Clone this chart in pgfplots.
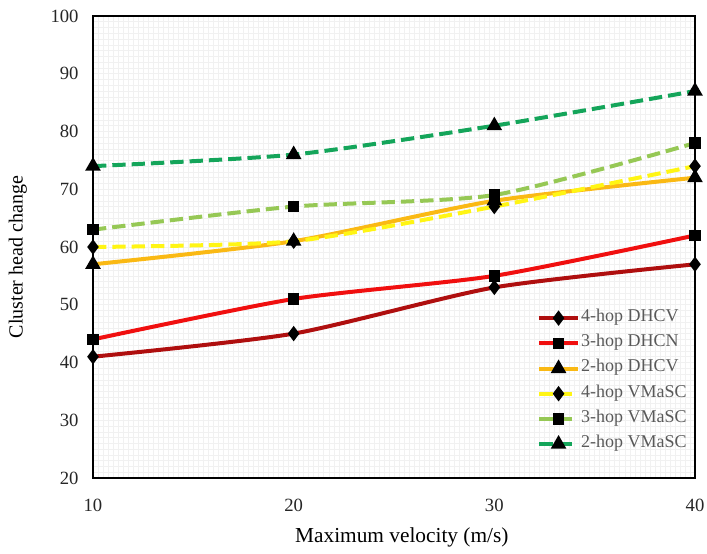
\documentclass[border=0pt]{standalone}
\usepackage{fontspec}
\setmainfont{Liberation Serif}
\usepackage{pgfplots}
\pgfplotsset{compat=1.18}
\definecolor{cA}{RGB}{175,15,15}
\definecolor{cB}{RGB}{240,15,15}
\definecolor{cC}{RGB}{250,185,20}
\definecolor{cD}{RGB}{255,245,20}
\definecolor{cE}{RGB}{150,200,85}
\definecolor{cF}{RGB}{20,165,90}
\begin{document}
\begin{tikzpicture}
\begin{axis}[
  name=ax,
  scale only axis,
  width=451.5pt, height=346.5pt,
  xmin=10, xmax=40, ymin=20, ymax=100,
  xtick={10,20,30,40}, ytick={20,30,...,100},
  minor x tick num=39, minor y tick num=9,
  grid=both,
  major grid style={gray!11, line width=0.4pt},
  minor grid style={gray!11, line width=0.4pt},
  major tick length=0pt, minor tick length=0pt,
  axis line style={black, line width=1.5pt},
  tick label style={font=\fontsize{14}{16}\selectfont, text=black!85},
  xticklabel style={yshift=-12.3pt},
  yticklabel style={xshift=-7.3pt},
  /pgf/number format/assume math mode=true,
  xlabel={Maximum velocity (m/s)},
  ylabel={Cluster head change},
  xlabel style={font=\fontsize{16}{18}\selectfont, at={(axis description cs:0.513,-0.128)}, anchor=center},
  ylabel style={font=\fontsize{15}{17}\selectfont, at={(axis description cs:-0.125,0.478)}, anchor=center},
  legend style={at={(rel axis cs:1,0)}, anchor=south east, xshift=-5pt, yshift=19.5pt,
    draw=none, fill=none,
    font=\fontsize{13.5}{15}\selectfont, text=black!65, row sep=7.5pt,
    inner sep=0pt,
    nodes={inner sep=1pt, text height=0.72em, text depth=0.22em}},
  legend cell align=left,
  legend image code/.code={\draw[mark repeat=2,mark phase=2] plot coordinates {(0pt,0pt)(14.5pt,0pt)(29pt,0pt)};},
  every axis plot/.append style={line width=3pt, smooth, tension=0.4},
  clip=false,
]
\addplot[cA, mark=diamond*, mark size=3.3pt, mark options={black, solid}] coordinates {(10,41)(20,45)(30,53)(40,57)};
\addlegendentry{4-hop DHCV}
\addplot[cB, mark=square*, mark size=2.8pt, mark options={black, solid}] coordinates {(10,44)(20,51)(30,55)(40,62)};
\addlegendentry{3-hop DHCN}
\addplot[cC, mark=triangle*, mark size=3.8pt, mark options={black, solid}] coordinates {(10,57)(20,61)(30,68)(40,72)};
\addlegendentry{2-hop DHCV}
\addplot[cD, dash pattern=on 10pt off 4.5pt, mark=diamond*, mark size=3.3pt, mark options={black, solid}] coordinates {(10,60)(20,61)(30,67)(40,74)};
\addlegendentry{4-hop VMaSC}
\addplot[cE, dash pattern=on 10pt off 4.5pt, mark=square*, mark size=2.8pt, mark options={black, solid}] coordinates {(10,63)(20,67)(30,69)(40,78)};
\addlegendentry{3-hop VMaSC}
\addplot[cF, dash pattern=on 10pt off 4.5pt, mark=triangle*, mark size=3.8pt, mark options={black, solid}] coordinates {(10,74)(20,76)(30,81)(40,87)};
\addlegendentry{2-hop VMaSC}
\end{axis}
\pgfresetboundingbox
\path[use as bounding box] ([xshift=-69.75pt, yshift=-57pt]ax.south west) rectangle ([xshift=9pt, yshift=12pt]ax.north east);
\end{tikzpicture}
\end{document}
